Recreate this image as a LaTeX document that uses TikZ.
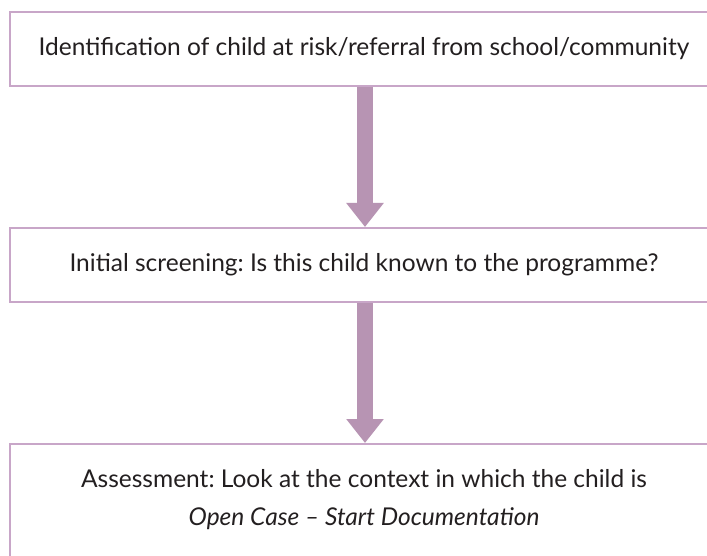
\documentclass[tikz,border=0pt]{standalone}
\usepackage{fontspec}
\setmainfont{Lato}
\usetikzlibrary{arrows.meta}
\definecolor{boxline}{HTML}{C8A6C8}
\definecolor{arrowfill}{HTML}{B794B3}
\definecolor{txt}{HTML}{231F20}
\frenchspacing
\begin{document}
\begin{tikzpicture}[x=1pt,y=-1pt,
  box/.style={draw=boxline, line width=2pt, fill=white, minimum width=708pt, inner sep=0pt, text=txt, font=\fontsize{24.5}{28}\selectfont},
  lbl/.style={inner sep=0pt, text=txt, font=\fontsize{24.5}{28}\selectfont, anchor=base},
  flow/.style={draw=arrowfill, line width=16pt, -{Triangle[width=36pt,length=24pt]}}]
\useasboundingbox (0,0) rectangle (707,556);
\fill[white] (0,0) rectangle (707,556);
\clip (0,0) rectangle (707,556);
\node[box, minimum height=74pt] (b1) at (364,49) {Identification of child at risk/referral from school/community};
\node[box, minimum height=74pt] (b2) at (364,265) {Initial screening: Is this child known to the programme?};
\node[box, minimum height=140pt] (b3) at (364,514) {};
\node[lbl] (t3a) at (364,487) {Assessment: Look at the context in which the child is};
\node[lbl] (t3b) at (364,525) {\itshape Open Case -- Start Documentation};
\coordinate (s1) at ([xshift=1pt]b1.south);
\coordinate (e1) at ([xshift=1pt]b2.north);
\coordinate (s2) at ([xshift=1pt]b2.south);
\coordinate (e2) at ([xshift=1pt]b3.north);
\draw[flow] (s1) -- (e1);
\draw[flow] (s2) -- (e2);
\end{tikzpicture}
\end{document}
